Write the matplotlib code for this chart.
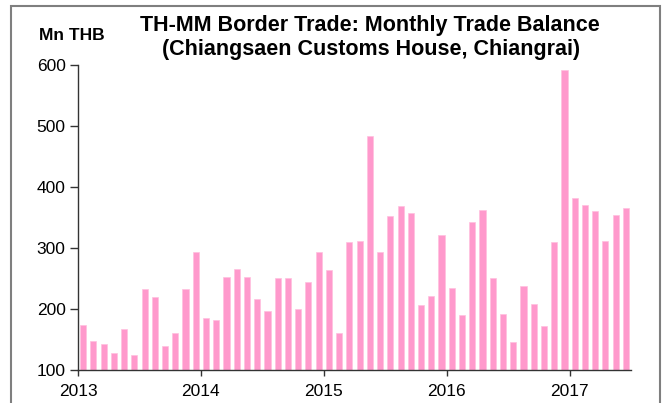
import numpy as np
import matplotlib.pyplot as plt
from matplotlib.patches import Rectangle

plt.rcParams['font.family'] = ['Liberation Sans', 'DejaVu Sans']

# monthly trade balance, Jan 2013 - Jun 2017 (Mn THB)
balance = [
    173, 148, 143, 128, 168, 124, 233, 220, 140, 161, 233, 293,   # 2013
    185, 182, 253, 265, 253, 217, 196, 251, 251, 200, 245, 294,   # 2014
    264, 161, 310, 312, 484, 294, 352, 369, 358, 207, 221, 322,   # 2015
    234, 190, 343, 362, 251, 192, 146, 238, 209, 172, 310, 591,   # 2016
    382, 370, 360, 312, 354, 366,                                 # 2017
]
years = ['2013', '2014', '2015', '2016', '2017']

fig = plt.figure(figsize=(6.68, 4.03), dpi=100)
ax = fig.add_axes([0.1168, 0.0819, 0.8278, 0.7568])

x = np.arange(len(balance)) + 0.5
ax.bar(x, balance, width=0.6, color='#ff99cc', edgecolor='#ffc0de', linewidth=0.5)

ax.set_ylim(100, 600)
ax.set_xlim(0, 54)
ax.set_yticks(range(100, 601, 100))
ax.set_xticks(range(0, 49, 12))
ax.set_xticklabels(years)
ax.tick_params(axis='both', labelsize=12.5, direction='out', width=1, color='#333333')
ax.tick_params(axis='y', length=6, pad=3)
ax.tick_params(axis='x', length=4, pad=6)
for s in ['top', 'right']:
    ax.spines[s].set_visible(False)
for s in ['left', 'bottom']:
    ax.spines[s].set_color('#333333')
    ax.spines[s].set_linewidth(1)

fig.text(370 / 668, 1 - 25 / 403, 'TH-MM Border Trade: Monthly Trade Balance',
         ha='center', va='center', fontsize=15.5, fontweight='bold')
fig.text(371 / 668, 1 - 49 / 403, '(Chiangsaen Customs House, Chiangrai)',
         ha='center', va='center', fontsize=15.5, fontweight='bold')
fig.text(72 / 668, 1 - 36 / 403, 'Mn THB', ha='center', va='center',
         fontsize=12.5, fontweight='bold')

# outer frame
fig.patches.append(Rectangle((11 / 668, -0.05), (660 - 11) / 668, 1.05 - 6 / 403,
                             transform=fig.transFigure, fill=False,
                             edgecolor='#7f7f7f', linewidth=1.5))

fig.savefig('out.png', dpi=100)
